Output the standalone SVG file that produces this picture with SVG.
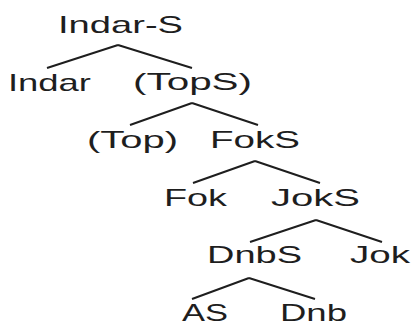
<svg xmlns="http://www.w3.org/2000/svg" width="412" height="323" viewBox="0 0 412 323">
<style>
text{font-family:"Liberation Sans",Arial,sans-serif;font-size:24px;fill:#1e1e1e;}
.e{stroke:#1e1e1e;stroke-width:2;fill:none;}
</style>
<rect width="412" height="323" fill="#fff"/>
<g id="connectors">
<path class="e" d="M118 45L47 68M118 45L192 68"/>
<path class="e" d="M192 103L130 125M192 103L258 125"/>
<path class="e" d="M255 161L193 183M255 161L320 183"/>
<path class="e" d="M316 220L250 242M316 220L382 242"/>
<path class="e" d="M249 278L192 299M249 278L315 299"/>
</g>
<g id="n-indar-s"><text x="58" y="33" textLength="125" lengthAdjust="spacingAndGlyphs">Indar-S</text></g>
<g id="n-indar"><text x="8" y="91" textLength="83" lengthAdjust="spacingAndGlyphs">Indar</text></g>
<g id="n-tops"><text x="133" y="90" textLength="119" lengthAdjust="spacingAndGlyphs">(TopS)</text></g>
<g id="n-top"><text x="87" y="148" textLength="91" lengthAdjust="spacingAndGlyphs">(Top)</text></g>
<g id="n-foks"><text x="210" y="148" textLength="90" lengthAdjust="spacingAndGlyphs">FokS</text></g>
<g id="n-fok"><text x="164" y="206" textLength="63" lengthAdjust="spacingAndGlyphs">Fok</text></g>
<g id="n-joks"><text x="271" y="206" textLength="89" lengthAdjust="spacingAndGlyphs">JokS</text></g>
<g id="n-dnbs"><text x="207" y="263" textLength="95" lengthAdjust="spacingAndGlyphs">DnbS</text></g>
<g id="n-jok"><text x="350" y="263" textLength="60" lengthAdjust="spacingAndGlyphs">Jok</text></g>
<g id="n-as"><text x="182" y="321" textLength="46" lengthAdjust="spacingAndGlyphs">AS</text></g>
<g id="n-dnb"><text x="280" y="321" textLength="67" lengthAdjust="spacingAndGlyphs">Dnb</text></g>
</svg>
